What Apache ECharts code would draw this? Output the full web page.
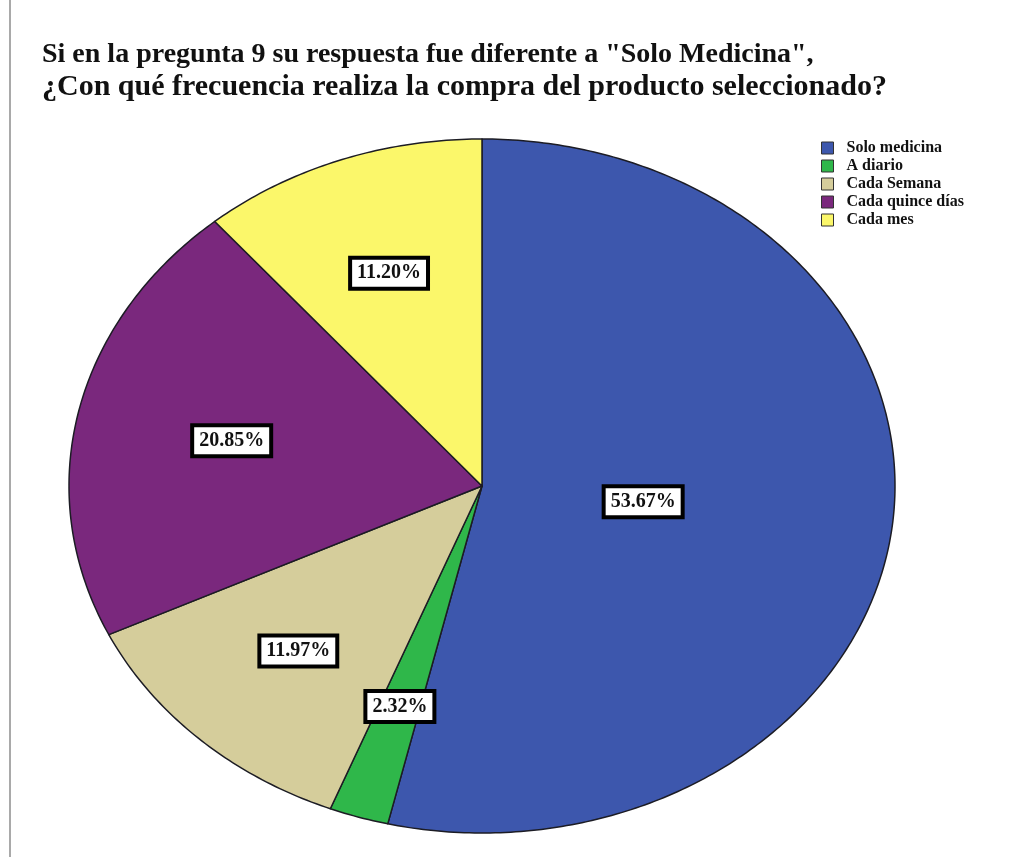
<!DOCTYPE html>
<html>
<head>
<meta charset="utf-8">
<script src="https://cdn.jsdelivr.net/npm/echarts@6/dist/echarts.min.js"></script>
<style>
  html, body { margin: 0; padding: 0; background: #fff; }
  #frame { position: absolute; left: 0; top: 0; width: 1020px; height: 857px; }
  #frame:before { content: ''; position: absolute; left: 9px; top: 0; bottom: 0; border-left: 2px solid #a9a9a9; }
  #chart { width: 1020px; height: 857px; }
</style>
</head>
<body>
<div id="frame"><div id="chart"></div></div>
<script>
// datos
const categories = ['Solo medicina', 'A diario', 'Cada Semana', 'Cada quince días', 'Cada mes'];
const percentages = [53.67, 2.32, 11.97, 20.85, 11.20];
const sliceColors = ['#3d57ad', '#2fb74a', '#d5cd9b', '#7a287d', '#fbf76a'];

const titleLines = [
  'Si en la pregunta 9 su respuesta fue diferente a "Solo Medicina",',
  '¿Con qué frecuencia realiza la compra del producto seleccionado?'
];

// elipse del pastel (SPSS lo dibuja estirado)
const CX = 482, CY = 486, RX = 413, RY = 347;
const serif = '"Liberation Serif", "DejaVu Serif", serif';

const total = percentages.reduce((a, b) => a + b, 0);

function renderSlice(params, api) {
  const i = params.seriesIndex;
  let before = 0;
  for (let k = 0; k < i; k++) before += percentages[k];
  const value = api.value(0);
  const a0 = before / total * Math.PI * 2;
  const a1 = (before + value) / total * Math.PI * 2;

  const pts = [[CX, CY]];
  const n = Math.max(4, Math.ceil((a1 - a0) * 80));
  for (let k = 0; k <= n; k++) {
    const a = a0 + (a1 - a0) * k / n;
    pts.push([CX + RX * Math.sin(a), CY - RY * Math.cos(a)]);
  }

  // etiqueta en el centroide del sector
  const half = (a1 - a0) / 2;
  const d = 2 * Math.sin(half) / (3 * half);
  const mid = (a0 + a1) / 2;
  const lx = CX + RX * d * Math.sin(mid);
  const ly = CY - RY * d * Math.cos(mid);

  return {
    type: 'group',
    children: [
      {
        type: 'polygon',
        shape: { points: pts },
        style: { fill: sliceColors[i], stroke: '#1c1c24', lineWidth: 1.5, lineJoin: 'round' }
      },
      {
        type: 'text',
        z2: 10,
        x: lx,
        y: ly,
        style: {
          text: value.toFixed(2) + '%',
          align: 'center',
          verticalAlign: 'middle',
          font: 'bold 20px ' + serif,
          fill: '#111',
          backgroundColor: '#fff',
          borderColor: '#000',
          borderWidth: 4,
          padding: [4, 5, 3, 5]
        }
      }
    ]
  };
}

const chart = echarts.init(document.getElementById('chart'));

chart.setOption({
  backgroundColor: 'transparent',
  animation: false,
  title: {
    text: '{a|' + titleLines[0] + '}\n{b|' + titleLines[1] + '}',
    left: 37,
    top: 33,
    textStyle: {
      fontFamily: serif,
      fontWeight: 'bold',
      color: '#111',
      rich: {
        a: { fontFamily: serif, fontWeight: 'bold', fontSize: 28, lineHeight: 33, color: '#111' },
        b: { fontFamily: serif, fontWeight: 'bold', fontSize: 30, lineHeight: 33, color: '#111' }
      }
    }
  },
  legend: {
    orient: 'vertical',
    left: 816,
    top: 135,
    icon: 'rect',
    itemWidth: 12,
    itemHeight: 12,
    itemGap: 2,
    data: categories,
    itemStyle: { borderColor: '#333', borderWidth: 1 },
    textStyle: {
      fontFamily: serif,
      fontWeight: 'bold',
      fontSize: 16,
      color: '#111',
      padding: [0, 0, 0, 8]
    }
  },
  series: categories.map((name, i) => ({
    type: 'custom',
    name: name,
    coordinateSystem: 'none',
    itemStyle: { color: sliceColors[i] },
    data: [percentages[i]],
    renderItem: renderSlice
  }))
});
</script>
</body>
</html>
